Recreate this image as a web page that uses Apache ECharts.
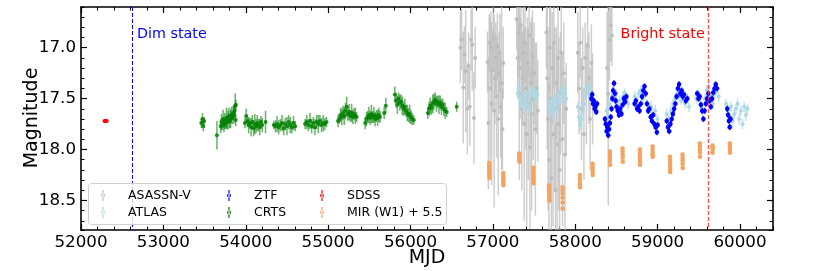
<!DOCTYPE html>
<html>
<head>
<meta charset="utf-8">
<script src="https://cdn.jsdelivr.net/npm/echarts@6/dist/echarts.min.js"></script>
<style>html,body{margin:0;padding:0;background:#fff}#c{width:814px;height:271px}</style>
</head>
<body>
<div id="c"></div>
<script>
// ---- tick labels ----
const xTicks = [52000, 53000, 54000, 55000, 56000, 57000, 58000, 59000, 60000];
const yTicks = [17.0, 17.5, 18.0, 18.5];
const seriesNames = ['ASASSN-V', 'ATLAS', 'ZTF', 'CRTS', 'SDSS', 'MIR (W1) + 5.5'];
const dimStateMJD = 52620;
const brightStateMJD = 59620;

// ---- data: [MJD, magnitude, error] ----
const sdss = [[52285, 17.72, 0.01], [52300, 17.72, 0.01], [52312, 17.72, 0.01]];

const crts = [
 [53460,17.74,0.05],[53475,17.70,0.06],[53485,17.77,0.05],[53495,17.72,0.04],
 [53650,17.86,0.14],
 [53695,17.77,0.07],[53705,17.73,0.08],[53715,17.75,0.06],[53725,17.70,0.09],[53735,17.76,0.07],
 [53745,17.72,0.08],[53755,17.74,0.06],[53765,17.69,0.10],[53775,17.73,0.07],[53785,17.71,0.09],
 [53795,17.67,0.08],[53805,17.72,0.07],[53815,17.70,0.09],[53825,17.66,0.08],[53835,17.69,0.06],
 [53845,17.64,0.07],[53855,17.66,0.09],[53865,17.62,0.07],[53872,17.57,0.12],[53880,17.56,0.05],[53878,17.71,0.06],
 [53990,17.74,0.05],[54005,17.67,0.07],[54020,17.72,0.06],[54035,17.76,0.08],[54050,17.74,0.05],
 [54065,17.78,0.09],[54080,17.73,0.07],[54095,17.79,0.08],[54110,17.75,0.10],[54125,17.77,0.07],
 [54140,17.74,0.08],[54155,17.76,0.06],[54170,17.78,0.08],[54185,17.73,0.06],[54200,17.76,0.07],
 [54240,17.73,0.11],
 [54340,17.76,0.04],[54360,17.77,0.06],[54380,17.75,0.08],[54400,17.78,0.07],[54420,17.76,0.06],
 [54440,17.74,0.08],[54460,17.79,0.07],[54480,17.75,0.06],[54500,17.77,0.09],[54520,17.73,0.07],
 [54540,17.76,0.08],[54560,17.78,0.06],[54580,17.74,0.07],[54600,17.77,0.05],
 [54720,17.75,0.05],[54740,17.73,0.07],[54760,17.76,0.06],[54780,17.72,0.08],[54800,17.77,0.07],
 [54820,17.74,0.06],[54840,17.78,0.08],[54860,17.73,0.07],[54880,17.75,0.09],[54900,17.72,0.06],
 [54920,17.76,0.07],[54940,17.74,0.08],[54960,17.75,0.06],[54980,17.73,0.05],
 [55120,17.72,0.06],[55135,17.70,0.05],[55150,17.66,0.07],[55165,17.68,0.08],[55180,17.64,0.07],
 [55195,17.67,0.09],[55210,17.62,0.08],[55225,17.58,0.10],[55240,17.65,0.07],[55255,17.63,0.08],
 [55270,17.67,0.06],[55285,17.64,0.09],[55300,17.68,0.07],[55315,17.65,0.06],[55330,17.67,0.08],[55345,17.68,0.05],
 [55450,17.74,0.06],[55465,17.70,0.07],[55480,17.68,0.06],[55495,17.66,0.08],[55510,17.69,0.07],
 [55525,17.65,0.09],[55540,17.68,0.06],[55555,17.66,0.08],[55570,17.70,0.07],[55585,17.67,0.06],
 [55600,17.69,0.08],[55615,17.66,0.07],[55630,17.68,0.06],
 [55680,17.64,0.06],[55700,17.57,0.08],
 [55810,17.46,0.08],[55825,17.52,0.07],[55840,17.56,0.09],[55855,17.50,0.06],[55870,17.54,0.08],
 [55885,17.53,0.07],[55900,17.57,0.09],[55915,17.60,0.07],[55930,17.58,0.08],[55945,17.62,0.06],
 [55960,17.64,0.08],[55975,17.66,0.07],[55990,17.65,0.09],[56005,17.68,0.07],[56020,17.70,0.06],[56040,17.71,0.05],
 [56210,17.64,0.06],[56225,17.60,0.07],[56240,17.57,0.08],[56255,17.59,0.07],[56270,17.55,0.09],
 [56285,17.53,0.08],[56300,17.51,0.07],[56315,17.55,0.08],[56330,17.53,0.06],[56345,17.56,0.09],
 [56360,17.54,0.07],[56375,17.58,0.08],[56390,17.56,0.06],[56405,17.60,0.07],[56420,17.62,0.08],[56440,17.63,0.05],
 [56560,17.58,0.05]
];

const asassn = [
 [56605,17.00,0.35],[56620,16.92,0.30],[56640,17.39,0.55],[56655,17.07,0.28],[56670,17.23,0.60],
 [56690,17.60,0.45],[56705,17.18,0.33],[56720,17.58,0.38],[56735,16.92,0.30],[56750,16.97,0.45],
 [56770,17.69,0.45],[56785,17.10,0.30],
 [56935,17.14,0.30],[56945,17.74,0.65],[56955,16.95,0.28],[56965,17.40,0.70],[56975,17.00,0.35],
 [56985,17.55,0.80],[56995,17.22,0.40],[57005,16.90,0.30],[57015,17.62,0.95],[57025,17.30,0.45],
 [57035,17.10,0.35],[57045,17.48,0.60],[57055,16.98,0.32],[57065,17.70,0.75],[57075,17.25,0.40],
 [57085,17.05,0.38],[57095,17.58,0.50],[57105,17.35,0.85],[57115,17.80,0.40],[57125,17.15,0.35],
 [57290,16.72,0.30],[57300,17.10,0.40],[57310,16.85,0.45],[57320,17.45,0.85],[57330,17.20,0.50],
 [57340,16.78,0.35],[57350,17.60,0.80],[57360,17.30,0.45],[57370,17.05,0.50],[57380,17.75,0.95],
 [57390,16.95,0.40],[57400,17.40,0.60],[57410,17.85,0.90],[57420,17.15,0.45],[57430,17.55,0.75],
 [57440,16.88,0.40],[57450,17.98,0.80],[57460,17.35,0.60],[57470,17.65,0.95],[57480,17.08,0.45],
 [57490,17.50,0.60],[57500,17.25,0.50],[57515,17.80,0.85],[57530,17.40,0.45],[57545,17.62,0.50],
 [57650,16.85,0.35],[57660,17.30,0.70],[57670,17.70,0.90],[57680,18.10,0.75],[57690,17.00,0.45],
 [57700,17.50,0.90],[57710,18.28,0.70],[57720,17.20,0.55],[57730,17.85,0.90],[57740,16.95,0.45],
 [57750,17.60,0.80],[57760,18.40,0.65],[57770,17.35,0.55],[57780,17.95,0.85],[57790,17.10,0.50],
 [57800,17.75,0.85],[57810,18.20,0.70],[57820,17.45,0.60],[57830,17.05,0.45],[57845,17.90,0.85],
 [57860,17.25,0.50],[57875,18.05,0.75],[57890,17.60,0.45],
 [58030,17.05,0.40],[58045,17.40,0.45],[58060,16.95,0.35],[58075,17.60,0.50],[58090,17.20,0.40],
 [58105,17.85,0.45],[58120,17.10,0.35],[58135,17.45,0.50],[58150,16.98,0.40],[58165,17.30,0.45],
 [58180,17.70,0.50],[58195,17.15,0.38],[58210,17.50,0.45],
 [58385,17.20,0.55],[58400,17.45,1.10],[58415,16.92,0.40],[58430,16.78,0.35],[58445,16.88,0.30]
];

const atlas = [
 [57300,17.45,0.04],[57315,17.40,0.05],[57330,17.50,0.04],[57345,17.55,0.05],[57360,17.48,0.04],
 [57375,17.60,0.06],[57390,17.52,0.05],[57405,17.45,0.04],[57420,17.56,0.05],[57435,17.50,0.04],
 [57450,17.62,0.06],[57465,17.44,0.05],[57480,17.40,0.04],[57495,17.47,0.05],[57510,17.43,0.04],
 [57525,17.50,0.05],[57540,17.46,0.04],
 [57680,17.55,0.05],[57695,17.60,0.06],[57710,17.52,0.05],[57725,17.65,0.06],[57740,17.58,0.05],
 [57755,17.50,0.04],[57770,17.62,0.05],[57785,17.55,0.06],[57800,17.47,0.05],[57815,17.53,0.04],
 [57830,17.42,0.05],[57845,17.48,0.04],[57860,17.40,0.05],[57875,17.45,0.04],[57890,17.50,0.05],
 [58030,17.58,0.05],[58045,17.68,0.06],[58060,17.76,0.05],[58075,17.70,0.06],[58090,17.62,0.05],
 [58105,17.55,0.05],[58120,17.48,0.04],[58135,17.42,0.05],[58150,17.38,0.04],[58165,17.45,0.05],
 [58180,17.40,0.04],[58195,17.50,0.05],[58210,17.47,0.04],[58225,17.55,0.05],
 [58380,17.62,0.05],[58400,17.68,0.06],[58420,17.55,0.05],[58440,17.48,0.05],[58460,17.42,0.04],
 [58480,17.50,0.05],[58500,17.45,0.04],[58520,17.58,0.05],[58540,17.52,0.05],[58560,17.62,0.06],
 [58580,17.48,0.05],[58600,17.44,0.04],[58620,17.50,0.05],[58640,17.55,0.05],
 [58720,17.48,0.05],[58745,17.52,0.05],[58770,17.45,0.04],[58795,17.42,0.05],[58820,17.50,0.05],
 [58845,17.46,0.04],[58870,17.55,0.05],[58895,17.60,0.05],[58920,17.58,0.06],[58945,17.65,0.05],
 [58970,17.62,0.06],[58995,17.70,0.05],
 [59110,17.65,0.05],[59135,17.70,0.06],[59160,17.62,0.05],[59185,17.55,0.05],[59210,17.50,0.04],
 [59235,17.45,0.05],[59260,17.48,0.05],[59285,17.52,0.04],[59310,17.45,0.05],[59335,17.55,0.05],
 [59360,17.50,0.05],[59380,17.58,0.05],
 [59470,17.50,0.05],[59495,17.45,0.05],[59520,17.55,0.05],[59545,17.62,0.06],[59570,17.50,0.05],
 [59595,17.42,0.05],[59620,17.38,0.04],[59645,17.48,0.05],[59670,17.55,0.06],[59695,17.45,0.05],
 [59720,17.40,0.05],[59740,17.48,0.05],
 [59830,17.55,0.05],[59850,17.62,0.06],[59870,17.68,0.05],[59890,17.58,0.05],[59910,17.72,0.06],
 [59930,17.65,0.05],[59950,17.60,0.05],[59970,17.55,0.05],[59990,17.70,0.06],[60010,17.62,0.05],
 [60030,17.75,0.05],[60050,17.58,0.05],[60070,17.66,0.06],[60090,17.60,0.05]
];

const ztf = [
 [58195,17.50,0.03],[58205,17.46,0.03],[58215,17.55,0.03],[58225,17.52,0.03],[58235,17.60,0.03],
 [58245,17.58,0.03],[58255,17.63,0.03],[58265,17.55,0.03],
 [58360,17.70,0.03],[58370,17.75,0.03],[58380,17.82,0.03],[58390,17.78,0.03],[58400,17.86,0.03],
 [58410,17.80,0.03],[58420,17.74,0.03],[58430,17.68,0.03],[58440,17.60,0.03],[58450,17.50,0.03],
 [58460,17.42,0.03],[58470,17.35,0.03],[58480,17.45,0.03],[58490,17.52,0.03],[58500,17.58,0.03],
 [58515,17.62,0.03],[58530,17.66,0.03],[58545,17.60,0.03],[58560,17.65,0.03],[58575,17.56,0.03],
 [58590,17.50,0.03],[58605,17.53,0.03],[58620,17.48,0.03],
 [58720,17.55,0.03],[58735,17.52,0.03],[58750,17.60,0.03],[58765,17.58,0.03],[58780,17.62,0.03],
 [58795,17.55,0.03],[58810,17.48,0.03],[58825,17.42,0.03],[58840,17.38,0.03],[58855,17.45,0.03],
 [58870,17.55,0.03],[58885,17.62,0.03],[58900,17.60,0.03],[58915,17.68,0.03],[58930,17.72,0.03],
 [58945,17.66,0.03],[58960,17.75,0.03],[58975,17.78,0.03],[58990,17.83,0.03],[59000,17.76,0.03],
 [59110,17.72,0.03],[59125,17.78,0.03],[59140,17.82,0.03],[59155,17.75,0.03],[59170,17.70,0.03],
 [59185,17.65,0.03],[59200,17.60,0.03],[59215,17.55,0.03],[59230,17.48,0.03],[59245,17.40,0.03],
 [59260,17.36,0.03],[59275,17.45,0.03],[59290,17.42,0.03],[59305,17.48,0.03],[59320,17.46,0.03],
 [59340,17.52,0.03],[59360,17.50,0.03],
 [59480,17.45,0.03],[59495,17.50,0.03],[59510,17.48,0.03],[59525,17.56,0.03],[59540,17.62,0.03],
 [59555,17.70,0.03],[59570,17.62,0.03],[59585,17.55,0.03],[59600,17.50,0.03],[59615,17.45,0.03],
 [59630,17.52,0.03],[59645,17.58,0.03],[59660,17.50,0.03],[59675,17.44,0.03],[59690,17.40,0.03],
 [59705,17.36,0.03],[59720,17.40,0.03],
 [59845,17.60,0.03],[59855,17.66,0.03],[59865,17.72,0.03],[59875,17.78,0.03],[59885,17.70,0.03]
];

const mir = [
 [56955,18.13,0.02],[56955,18.16,0.02],[56956,18.18,0.02],[56956,18.20,0.02],[56957,18.22,0.02],[56957,18.24,0.02],[56958,18.26,0.02],[56958,18.28,0.02],
 [57125,18.23,0.02],[57125,18.26,0.02],[57126,18.28,0.02],[57126,18.30,0.02],[57127,18.32,0.02],[57127,18.35,0.02],
 [57320,18.04,0.02],[57320,18.06,0.02],[57321,18.08,0.02],[57321,18.10,0.02],[57322,18.12,0.02],
 [57490,18.18,0.02],[57490,18.21,0.02],[57491,18.24,0.02],[57491,18.27,0.02],[57492,18.30,0.02],[57492,18.33,0.02],
 [57683,18.35,0.02],[57683,18.38,0.02],[57684,18.41,0.02],[57684,18.44,0.02],[57685,18.47,0.02],[57685,18.50,0.02],
 [57845,18.37,0.02],[57845,18.40,0.02],[57846,18.43,0.02],[57846,18.47,0.02],[57847,18.52,0.02],[57847,18.58,0.02],
 [58056,18.25,0.02],[58056,18.28,0.02],[58057,18.31,0.02],[58057,18.34,0.02],[58058,18.37,0.02],
 [58210,18.14,0.02],[58210,18.17,0.02],[58211,18.19,0.02],[58211,18.22,0.02],[58212,18.25,0.02],
 [58420,18.02,0.02],[58420,18.05,0.02],[58421,18.08,0.02],[58421,18.11,0.02],[58422,18.15,0.02],
 [58574,17.99,0.02],[58574,18.02,0.02],[58575,18.05,0.02],[58575,18.08,0.02],[58576,18.12,0.02],
 [58784,18.00,0.02],[58784,18.03,0.02],[58785,18.06,0.02],[58785,18.09,0.02],[58786,18.12,0.02],[58786,18.15,0.02],
 [58938,17.97,0.02],[58938,18.00,0.02],[58939,18.03,0.02],[58939,18.05,0.02],[58940,18.07,0.02],
 [59150,18.07,0.02],[59150,18.10,0.02],[59151,18.13,0.02],[59151,18.16,0.02],[59152,18.19,0.02],[59152,18.22,0.02],
 [59302,18.05,0.02],[59302,18.08,0.02],[59303,18.11,0.02],[59303,18.14,0.02],[59304,18.18,0.02],
 [59512,17.94,0.02],[59512,17.97,0.02],[59513,18.00,0.02],[59513,18.03,0.02],[59514,18.07,0.02],
 [59666,17.96,0.02],[59666,17.98,0.02],[59667,18.00,0.02],[59667,18.03,0.02],
 [59876,17.94,0.02],[59876,17.96,0.02],[59877,17.98,0.02],[59877,18.00,0.02],[59878,18.03,0.02]
];

// ---- rendering ----
const FONT = 'DejaVu Sans';
const X_MIN = 52000, X_MAX = 60400, Y_MIN = 16.6, Y_MAX = 18.79;

function errSeries(name, data, color, lineOpacity, lw, r, z) {
  return {
    name: name, type: 'custom', data: data, clip: true, z: z,
    xAxisIndex: 0, yAxisIndex: 0,
    itemStyle: { color: color },
    encode: { x: 0, y: 1 },
    renderItem: function (params, api) {
      const x = api.value(0), y = api.value(1), e = api.value(2);
      const p = api.coord([x, y]);
      const t = api.coord([x, y - e]);
      const b = api.coord([x, y + e]);
      return {
        type: 'group',
        children: [
          { type: 'line', shape: { x1: p[0], y1: t[1], x2: p[0], y2: b[1] },
            style: { stroke: color, lineWidth: lw, opacity: lineOpacity } },
          { type: 'circle', shape: { cx: p[0], cy: p[1], r: r },
            style: { fill: color, opacity: Math.min(1, lineOpacity + 0.25) } }
        ]
      };
    }
  };
}

const colors = {
  'ASASSN-V': '#bdbdbd', 'ATLAS': '#add8e6', 'ZTF': '#0000ff',
  'CRTS': '#008000', 'SDSS': '#ff0000', 'MIR (W1) + 5.5': '#f4a460'
};

const ICON = 'path://M1.4,0h1.2v11h-1.2z M0,5.5a2,2 0 1,0 4,0a2,2 0 1,0 -4,0z';

function legendComp(names, left) {
  return {
    orient: 'vertical', left: left, top: 189, itemWidth: 4, itemHeight: 11, itemGap: 4,
    padding: 0, symbolKeepAspect: true, z: 10,
    formatter: n => '{s|}' + n,
    textStyle: { fontFamily: FONT, fontSize: 12.5, color: '#000', rich: { s: { width: 18 } } },
    data: names.map(n => ({ name: n, icon: ICON, itemStyle: { color: colors[n], opacity: 1 } }))
  };
}

const majorAxisCommon = {
  type: 'value', min: X_MIN, max: X_MAX,
  axisLine: { show: true, onZero: false, lineStyle: { color: '#000', width: 1.6 } },
  splitLine: { show: false }
};

const chart = echarts.init(document.getElementById('c'), null, { renderer: 'canvas' });

const option = {
  animation: false,
  backgroundColor: '#fff',
  grid: { left: 81, right: 41, top: 7, bottom: 41, containLabel: false },
  xAxis: [
    Object.assign({}, majorAxisCommon, {
      position: 'bottom',
      axisTick: { show: true, inside: true, length: 6, customValues: xTicks, lineStyle: { color: '#000', width: 1.2 } },
      axisLabel: { show: true, customValues: xTicks, margin: 4, fontFamily: FONT, fontSize: 16.7, color: '#000',
                   formatter: v => String(v) }
    }),
    { type: 'value', min: X_MIN, max: X_MAX, interval: 200, position: 'bottom',
      axisLine: { show: false, onZero: false }, splitLine: { show: false }, axisLabel: { show: false },
      axisTick: { show: true, inside: true, length: 3.5, lineStyle: { color: '#000', width: 1 } } },
    Object.assign({}, majorAxisCommon, {
      position: 'top',
      axisTick: { show: true, inside: true, length: 6, customValues: xTicks, lineStyle: { color: '#000', width: 1.2 } },
      axisLabel: { show: false }
    }),
    { type: 'value', min: X_MIN, max: X_MAX, interval: 200, position: 'top',
      axisLine: { show: false, onZero: false }, splitLine: { show: false }, axisLabel: { show: false },
      axisTick: { show: true, inside: true, length: 3.5, lineStyle: { color: '#000', width: 1 } } }
  ],
  yAxis: [
    { type: 'value', min: Y_MIN, max: Y_MAX, inverse: true, position: 'left',
      axisLine: { show: true, onZero: false, lineStyle: { color: '#000', width: 1.6 } },
      splitLine: { show: false },
      axisTick: { show: true, inside: true, length: 6, customValues: yTicks, lineStyle: { color: '#000', width: 1.2 } },
      axisLabel: { show: true, customValues: yTicks, margin: 5, fontFamily: FONT, fontSize: 16.7, color: '#000',
                   formatter: v => Number(v).toFixed(1) } },
    { type: 'value', min: Y_MIN, max: Y_MAX, interval: 0.1, inverse: true, position: 'left',
      axisLine: { show: false, onZero: false }, splitLine: { show: false }, axisLabel: { show: false },
      axisTick: { show: true, inside: true, length: 3.5, lineStyle: { color: '#000', width: 1 } } },
    { type: 'value', min: Y_MIN, max: Y_MAX, inverse: true, position: 'right',
      axisLine: { show: true, onZero: false, lineStyle: { color: '#000', width: 1.6 } },
      splitLine: { show: false },
      axisTick: { show: true, inside: true, length: 6, customValues: yTicks, lineStyle: { color: '#000', width: 1.2 } },
      axisLabel: { show: false } },
    { type: 'value', min: Y_MIN, max: Y_MAX, interval: 0.1, inverse: true, position: 'right',
      axisLine: { show: false, onZero: false }, splitLine: { show: false }, axisLabel: { show: false },
      axisTick: { show: true, inside: true, length: 3.5, lineStyle: { color: '#000', width: 1 } } }
  ],
  legend: [
    legendComp([seriesNames[0], seriesNames[1]], 101),
    legendComp([seriesNames[2], seriesNames[3]], 227),
    legendComp([seriesNames[4], seriesNames[5]], 320)
  ],
  series: [
    errSeries('ASASSN-V', asassn, colors['ASASSN-V'], 0.75, 1.5, 2, 2),
    errSeries('ATLAS', atlas, colors['ATLAS'], 0.75, 1.5, 2, 3),
    errSeries('ZTF', ztf, colors['ZTF'], 0.9, 1.5, 2.3, 4),
    errSeries('CRTS', crts, colors['CRTS'], 0.6, 1.5, 2, 5),
    errSeries('SDSS', sdss, colors['SDSS'], 0.9, 1.5, 2, 6),
    errSeries('MIR (W1) + 5.5', mir, colors['MIR (W1) + 5.5'], 0.75, 1.5, 2.3, 7),
    {
      name: 'lines', type: 'line', data: [], xAxisIndex: 0, yAxisIndex: 0, z: 8,
      markLine: {
        silent: true, symbol: ['none', 'none'], label: { show: false },
        data: [
          { xAxis: dimStateMJD, lineStyle: { color: '#0000ff', type: [4, 2], width: 1, opacity: 1 } },
          { xAxis: brightStateMJD, lineStyle: { color: '#ff3030', type: [4, 2], width: 1.3, opacity: 0.85 } }
        ]
      }
    }
  ]
};
chart.setOption(option);

// annotation texts positioned through the axes
const dimX = chart.convertToPixel({ xAxisIndex: 0 }, dimStateMJD);
const brightX = chart.convertToPixel({ xAxisIndex: 0 }, brightStateMJD);
const annY = chart.convertToPixel({ yAxisIndex: 0 }, 16.87);

chart.setOption({
  graphic: [
    { type: 'rect', z: 9, shape: { x: 88.5, y: 183.5, width: 358, height: 41, r: 3 },
      style: { fill: 'rgba(255,255,255,0.8)', stroke: '#d0d0d0', lineWidth: 1 } },
    { type: 'text', z: 12, style: { text: 'Dim state', x: dimX + 5, y: annY, fill: '#0000ff',
      font: '14.3px "' + FONT + '"', textAlign: 'left', textVerticalAlign: 'middle' } },
    { type: 'text', z: 12, style: { text: 'Bright state', x: brightX - 4, y: annY, fill: '#ff0000',
      font: '14.3px "' + FONT + '"', textAlign: 'right', textVerticalAlign: 'middle' } },
    { type: 'text', z: 12, rotation: Math.PI / 2, x: 32, y: 118,
      style: { text: 'Magnitude', fill: '#000', font: '19px "' + FONT + '"', textAlign: 'center', textVerticalAlign: 'middle' } },
    { type: 'text', z: 12, x: 427, y: 258,
      style: { text: 'MJD', fill: '#000', font: '19px "' + FONT + '"', textAlign: 'center', textVerticalAlign: 'middle' } }
  ]
});
</script>
</body>
</html>
